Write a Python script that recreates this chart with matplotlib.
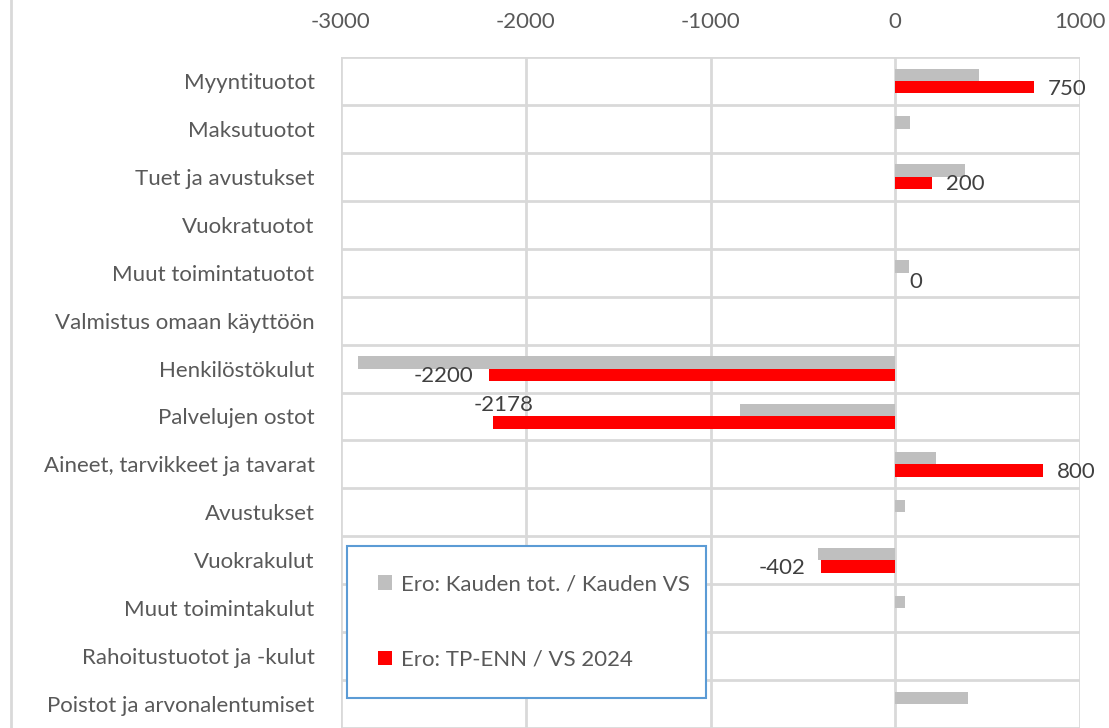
import matplotlib
matplotlib.use('Agg')
import matplotlib.pyplot as plt
from matplotlib.patches import Patch, Rectangle
from matplotlib.lines import Line2D
import numpy as np

# categories top to bottom
categories = [
    'Myyntituotot',
    'Maksutuotot',
    'Tuet ja avustukset',
    'Vuokratuotot',
    'Muut toimintatuotot',
    'Valmistus omaan käyttöön',
    'Henkilöstökulut',
    'Palvelujen ostot',
    'Aineet, tarvikkeet ja tavarat',
    'Avustukset',
    'Vuokrakulut',
    'Muut toimintakulut',
    'Rahoitustuotot ja -kulut',
    'Poistot ja arvonalentumiset',
]

# Ero: Kauden tot. / Kauden VS (grey)
kauden = [455, 81, 380, np.nan, 73, np.nan, -2907, -842, 221, 54, -417, 54, np.nan, 393]
# Ero: TP-ENN / VS 2024 (red), labelled
tp_enn = [750, np.nan, 200, np.nan, 0, np.nan, -2200, -2178, 800, np.nan, -402, np.nan, np.nan, np.nan]

series_names = ['Ero: Kauden tot. / Kauden VS', 'Ero: TP-ENN / VS 2024']
xticks = [-3000, -2000, -1000, 0, 1000]

GREY = '#BFBFBF'
RED = '#FF0000'
GRID = '#D9D9D9'
TXT = '#595959'
LBL = '#404040'

plt.rcParams['font.family'] = ['Lato', 'DejaVu Sans']
plt.rcParams['axes.unicode_minus'] = False
FS = 16

fig = plt.figure(figsize=(11.09, 7.28), dpi=100)
ax = fig.add_axes([341 / 1109, 0.0, (1080 - 341) / 1109, 1 - 57 / 728])

y = np.arange(len(categories))
h = 0.26
ax.barh(y - h / 2, np.nan_to_num(kauden), height=h, color=GREY, zorder=3)
ax.barh(y + h / 2, np.nan_to_num(tp_enn), height=h, color=RED, zorder=3)

# data labels for red series, outside end (one moved up by hand)
shift = {'Palvelujen ostot': (8, 13)}
for i, v in enumerate(tp_enn):
    if np.isnan(v):
        continue
    if categories[i] in shift:
        dx, dy = shift[categories[i]]
        ax.annotate(f'{v:g}', (v, i + h / 2), xytext=(dx, dy), textcoords='offset points',
                    ha='center', va='center', fontsize=FS, color=LBL, zorder=4)
    elif v < 0:
        ax.annotate(f'{v:g}', (v, i + h / 2), xytext=(-11, -1), textcoords='offset points',
                    ha='right', va='center', fontsize=FS, color=LBL, zorder=4)
    else:
        ax.annotate(f'{v:g}', (v, i + h / 2), xytext=(10, -1 if v else -2), textcoords='offset points',
                    ha='left', va='center', fontsize=FS, color=LBL, zorder=4)

ax.set_xlim(-3000, 1000)
ax.set_ylim(len(categories) - 0.5, -0.5)
ax.set_xticks(xticks)
ax.set_yticks(y)
ax.set_yticklabels(categories)
ax.xaxis.tick_top()
ax.tick_params(axis='x', length=0, pad=18, labelsize=FS, labelcolor=TXT)
ax.tick_params(axis='y', length=0, pad=19, labelsize=FS, labelcolor=TXT)

# gridlines: vertical at ticks, horizontal at category boundaries
ax.set_yticks(np.arange(len(categories) + 1) - 0.5, minor=True)
ax.tick_params(axis='y', which='minor', length=0)
ax.grid(axis='x', which='major', color=GRID, lw=2, zorder=0)
ax.grid(axis='y', which='minor', color=GRID, lw=2, zorder=0)
for s in ax.spines.values():
    s.set_visible(False)

# outer chart border on the left
fig.add_artist(Line2D([10.5 / 1109, 10.5 / 1109], [0, 1], color=GRID, lw=2))

# legend box
ax.add_patch(Rectangle((0.008, 0.045), 0.486, 0.226, transform=ax.transAxes,
                       facecolor='white', edgecolor='#5B9BD5', lw=1.5, zorder=5))
handles = [Patch(facecolor=GREY, label=series_names[0]),
           Patch(facecolor=RED, label=series_names[1])]
leg = ax.legend(handles=handles, loc='center left', bbox_to_anchor=(0.035, 0.158),
                frameon=False, fontsize=FS, labelcolor=TXT, handlelength=0.65,
                handleheight=0.65, handletextpad=0.4, labelspacing=2.5, borderpad=0)
leg.set_zorder(6)

fig.savefig('out.png', dpi=100)
